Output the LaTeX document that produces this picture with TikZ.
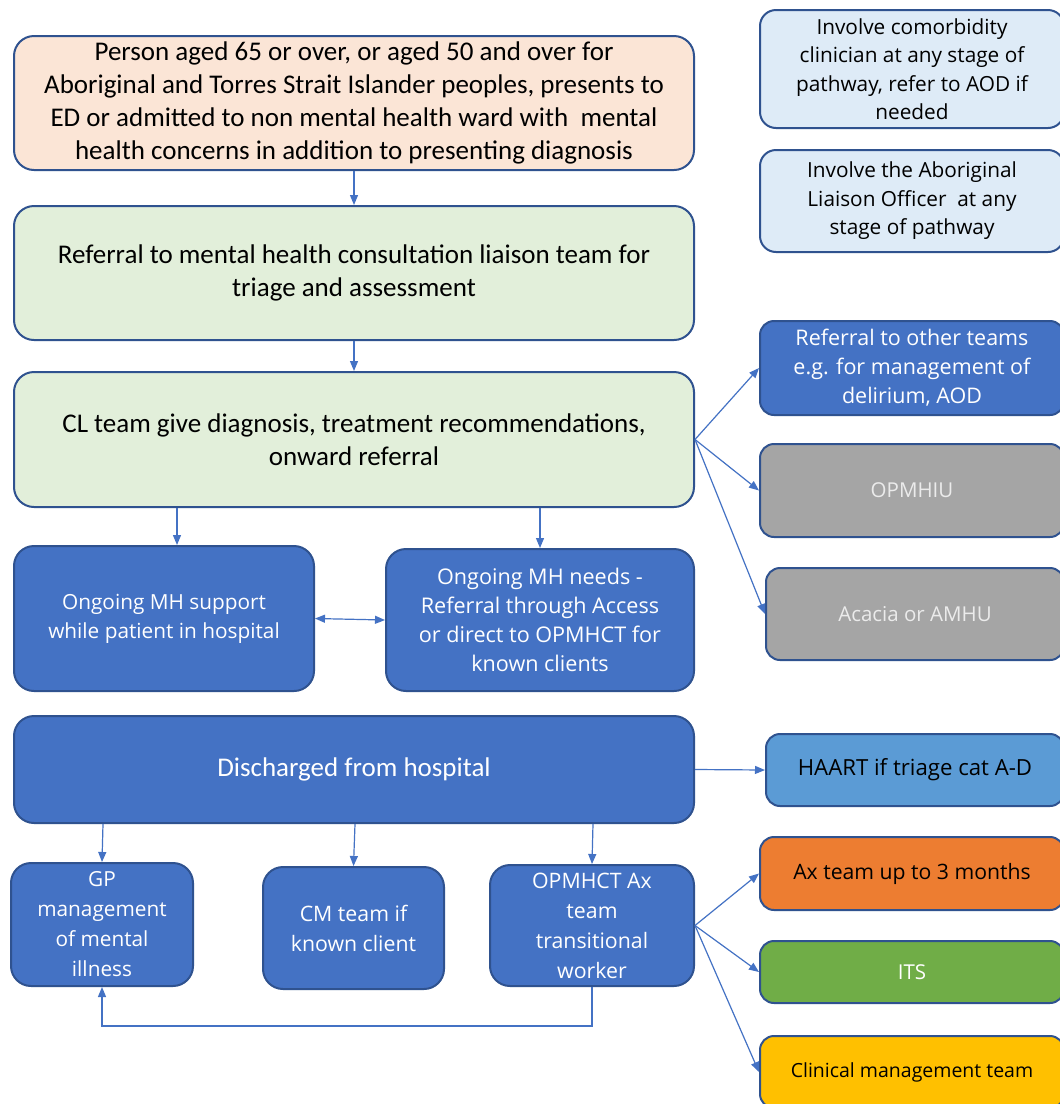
\documentclass[tikz,border=0pt]{standalone}
\usepackage{fontspec}
\setmainfont{Carlito}
\newfontfamily\segoe{Open Sans}
\usetikzlibrary{arrows.meta}
\definecolor{bord}{HTML}{2F528F}
\definecolor{arrc}{HTML}{4472C4}
\definecolor{peach}{HTML}{FBE5D6}
\definecolor{lgreen}{HTML}{E2EFDA}
\definecolor{lblue}{HTML}{DEEBF7}
\definecolor{mblue}{HTML}{4472C4}
\definecolor{sky}{HTML}{5B9BD5}
\definecolor{gry}{HTML}{A5A5A5}
\definecolor{orng}{HTML}{ED7D31}
\definecolor{grn}{HTML}{70AD47}
\definecolor{gold}{HTML}{FFC000}
\tikzset{
  box/.style={draw=bord, line width=2pt, rounded corners=20pt, align=center, inner sep=2pt},
  big/.style={box, font=\fontsize{27}{33}\selectfont},
  mid/.style={box, font=\segoe\fontsize{20.8}{29}\selectfont, text=white, fill=mblue},
  low/.style={mid, font=\segoe\fontsize{21.3}{30}\selectfont},
  side/.style={box, font=\segoe\fontsize{20.5}{29}\selectfont, rounded corners=14pt},
  note/.style={box, font=\segoe\fontsize{20.8}{28.5}\selectfont, fill=lblue, rounded corners=16pt},
  arr/.style={draw=arrc, line width=1.2pt, -{Triangle[length=10pt,width=8pt]}},
  darr/.style={draw=arrc, line width=1.2pt, {Triangle[length=10pt,width=8pt]}-{Triangle[length=10pt,width=8pt]}}
}
\begin{document}
\begin{tikzpicture}[x=1pt,y=-1pt]
\clip (0,0) rectangle (1060,1104);
\fill[white] (0,0) rectangle (1060,1104);
% main column
\node[big, fill=peach, minimum width=680pt, minimum height=134pt] (n1) at (354,103)
 {Person aged 65 or over, or aged 50 and over for\\Aboriginal and Torres Strait Islander peoples, presents to\\ED or admitted to non mental health ward with\ \ mental\\health concerns in addition to presenting diagnosis};
\node[big, fill=lgreen, minimum width=680pt, minimum height=134pt] (n2) at (354,273)
 {Referral to mental health consultation liaison team for\\triage and assessment};
\node[big, fill=lgreen, minimum width=680pt, minimum height=135pt] (n3) at (354,439.5)
 {CL team give diagnosis, treatment recommendations,\\onward referral};
\node[mid, minimum width=300pt, minimum height=145pt] (n4) at (164,618.5)
 {Ongoing MH support\\while patient in hospital};
\node[mid, font=\segoe\fontsize{21.6}{29}\selectfont, minimum width=308pt, minimum height=142pt] (n5) at (540,620)
 {Ongoing MH needs -\\Referral through Access\\or direct to OPMHCT for\\known clients};
\node[mid, font=\fontsize{27}{30}\selectfont, minimum width=680pt, minimum height=107pt] (n6) at (354,769.5)
 {Discharged from hospital};
\node[low, font=\segoe\fontsize{20.8}{30}\selectfont, minimum width=182pt, minimum height=123pt] (gp) at (102,924.5)
 {GP\\management\\of mental\\illness};
\node[low, minimum width=181pt, minimum height=122pt] (cm) at (353.5,928)
 {CM team if\\known client};
\node[low, minimum width=204pt, minimum height=121pt] (op) at (592,925.5)
 {OPMHCT Ax\\team\\transitional\\worker};
% right column
\node[note, minimum width=304pt, minimum height=118pt] (r1) at (912,69)
 {Involve comorbidity\\clinician at any stage of\\pathway, refer to AOD if\\needed};
\node[note, minimum width=304pt, minimum height=102pt] (r2) at (912,201)
 {Involve the Aboriginal\\Liaison Officer\ \ at any\\stage of pathway};
\node[side, font=\segoe\fontsize{21.5}{29}\selectfont, fill=mblue, text=white, minimum width=304pt, minimum height=94pt] (r3) at (912,368)
 {Referral to other teams\\e.g. for management of\\delirium, AOD};
\node[side, fill=gry, text=white!92!black, minimum width=304pt, minimum height=93pt] (r4) at (912,490.5)
 {OPMHIU};
\node[side, fill=gry, text=white!92!black, minimum width=298pt, minimum height=92pt] (r5) at (915,614)
 {Acacia or AMHU};
\node[side, font=\segoe\fontsize{22.2}{29}\selectfont, fill=sky, minimum width=298pt, minimum height=72pt] (haart) at (915,770)
 {HAART if triage cat A-D};
\node[side, font=\segoe\fontsize{21.2}{29}\selectfont, fill=orng, minimum width=304pt, minimum height=73pt] (ax) at (912,873.5)
 {Ax team up to 3 months};
\node[side, fill=grn, text=white, minimum width=304pt, minimum height=62pt] (its) at (912,972)
 {ITS};
\node[side, font=\segoe\fontsize{19.5}{26}\selectfont, fill=gold, minimum width=304pt, minimum height=72pt] (clin) at (912,1072)
 {Clinical management team};
% connectors
\draw[arr] (n1.south) -- (n2.north);
\draw[arr] (n2.south) -- (n3.north);
\draw[arr] (177,0 |- n3.south) -- (177,0 |- n4.north);
\draw[arr] (540,0 |- n3.south) -- (n5.north);
\draw[darr] (n4.east) -- (n5.west);
\draw[arr] (n3.east) -- (r3.west);
\draw[arr] (n3.east) -- (r4.west);
\draw[arr] (n3.east) -- (r5.west);
\draw[arr] (n6.east) -- (haart.west);
\draw[arr] (103,0 |- n6.south) -- (gp.north);
\draw[arr] (355,0 |- n6.south) -- (cm.north);
\draw[arr] (593,0 |- n6.south) -- (op.north);
\draw[arr] (op.south) -- ++(0,39) -| (gp.south);
\draw[arr] (op.east) -- (ax.west);
\draw[arr] (op.east) -- (its.west);
\draw[arr] (op.east) -- (clin.west);
\end{tikzpicture}
\end{document}
